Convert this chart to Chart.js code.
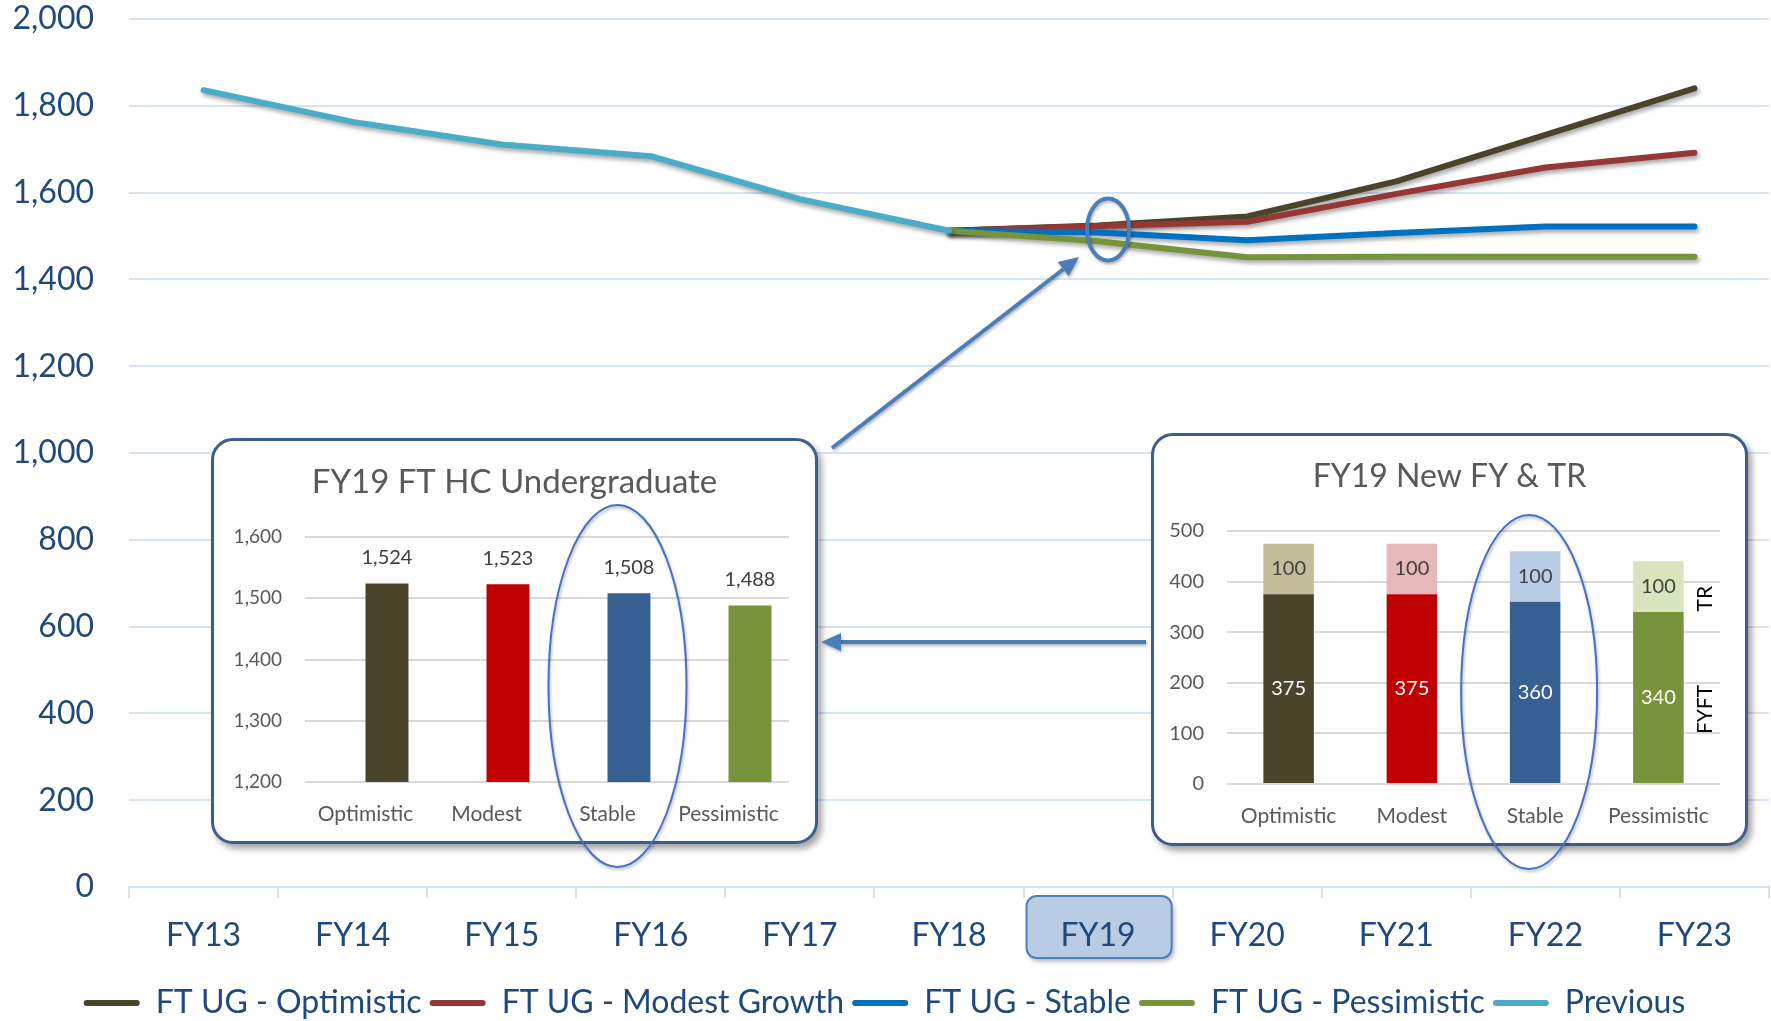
<!DOCTYPE html>
<html>
<head>
<meta charset="utf-8">
<title>FT UG headcount scenarios</title>
<script src="https://cdn.jsdelivr.net/npm/chart.js@4.4.1/dist/chart.umd.min.js"></script>
<style>
  body { margin: 0; background: #fff; }
  #wrap { position: relative; width: 1771px; height: 1021px; overflow: hidden; }
  #wrap canvas { position: absolute; }
  .inset { position: absolute; box-sizing: border-box; background: #fff; border: 3px solid #3B5E8C;
           border-radius: 22px; box-shadow: 4px 5px 6px rgba(0,0,0,0.35); }
</style>
</head>
<body>
<div id="wrap">
  <canvas id="mainChart" width="1771" height="1021" style="left:0;top:0"></canvas>
  <div class="inset" style="left:211px;top:438px;width:607px;height:406px"></div>
  <canvas id="hcChart" width="607" height="406" style="left:211px;top:438px"></canvas>
  <div class="inset" style="left:1151px;top:433px;width:597px;height:413px"></div>
  <canvas id="newChart" width="597" height="413" style="left:1151px;top:433px"></canvas>
  <canvas id="notes" width="1771" height="1021" style="left:0;top:0"></canvas>
</div>
<script>
// main chart data
const years = ['FY13', 'FY14', 'FY15', 'FY16', 'FY17', 'FY18', 'FY19', 'FY20', 'FY21', 'FY22', 'FY23'];
const optimistic  = [null, null, null, null, null, 1512, 1524, 1545, 1626, 1733, 1840];
const modest      = [null, null, null, null, null, 1512, 1523, 1533, 1597, 1658, 1692];
const stable      = [null, null, null, null, null, 1512, 1508, 1490, 1507, 1522, 1522];
const pessimistic = [null, null, null, null, null, 1512, 1488, 1451, 1452, 1452, 1452];
const previous    = [1836, 1763, 1711, 1684, 1585, 1512, null, null, null, null, null];

// inset charts data
const scenarios = ['Optimistic', 'Modest', 'Stable', 'Pessimistic'];
const fy19Headcount = [1524, 1523, 1508, 1488];
const newFirstYear = [375, 375, 360, 340];
const newTransfer = [100, 100, 100, 100];

const darkColors = ['#4A452A', '#C00000', '#376092', '#77933C'];
const lightColors = ['#C4BD97', '#E6B9B8', '#B9CDE5', '#D7E4BD'];

const FONT = 'Lato, "Open Sans", sans-serif';
Chart.defaults.font.family = FONT;
Chart.defaults.animation = false;

const fmt = v => Number(v).toLocaleString('en-US');

// soft shadow under the lines
const lineShadow = {
  id: 'lineShadow',
  beforeDatasetDraw(chart) {
    const c = chart.ctx;
    c.save();
    c.shadowColor = 'rgba(0,0,0,0.35)';
    c.shadowBlur = 4;
    c.shadowOffsetX = 2;
    c.shadowOffsetY = 3;
  },
  afterDatasetDraw(chart) { chart.ctx.restore(); }
};

// highlighted FY19 label
const fy19Box = {
  id: 'fy19Box',
  beforeDraw(chart) {
    const x = chart.scales.x;
    const half = (x.getPixelForValue(1) - x.getPixelForValue(0)) / 2;
    const cx = x.getPixelForValue(years.indexOf('FY19'));
    const c = chart.ctx;
    c.save();
    c.shadowColor = 'rgba(0,0,0,0.35)';
    c.shadowBlur = 5;
    c.shadowOffsetX = 2;
    c.shadowOffsetY = 3;
    c.beginPath();
    c.roundRect(cx - half + 3, chart.chartArea.bottom + 9, half * 2 - 4, 62, 10);
    c.fillStyle = '#B8CCE4';
    c.fill();
    c.shadowColor = 'transparent';
    c.lineWidth = 2;
    c.strokeStyle = '#4F81BD';
    c.stroke();
    c.restore();
  }
};

function lineSet(label, data, color, order) {
  return {
    label: label, data: data, order: order,
    borderColor: color, backgroundColor: color, borderWidth: 6,
    pointRadius: 0, pointHoverRadius: 0, tension: 0,
    borderCapStyle: 'round', borderJoinStyle: 'round'
  };
}

const mainChart = new Chart(document.getElementById('mainChart'), {
  type: 'line',
  data: {
    labels: years,
    datasets: [
      lineSet('FT UG - Optimistic', optimistic, '#4A452A', 5),
      lineSet('FT UG - Modest Growth', modest, '#953735', 4),
      lineSet('FT UG - Stable', stable, '#0070C0', 3),
      lineSet('FT UG - Pessimistic', pessimistic, '#77933C', 2),
      lineSet('Previous', previous, '#4BACC6', 1)
    ]
  },
  options: {
    responsive: false,
    devicePixelRatio: 1,
    layout: { padding: { top: 0, right: 2, left: 0, bottom: -8 } },
    plugins: {
      tooltip: { enabled: false },
      legend: {
        position: 'bottom',
        labels: {
          color: '#1F497D',
          font: { size: 32 },
          boxWidth: 56,
          boxHeight: 6,
          padding: 8,
          useBorderRadius: true,
          borderRadius: 3,
          sort: (a, b) => a.datasetIndex - b.datasetIndex,
          generateLabels(chart) {
            const items = Chart.defaults.plugins.legend.labels.generateLabels(chart);
            items.forEach(it => { it.lineWidth = 0; });
            return items;
          }
        }
      }
    },
    scales: {
      x: {
        offset: true,
        grid: { offset: true, drawOnChartArea: false, tickLength: 11, color: '#D5E1F1', lineWidth: 2 },
        border: { color: '#D5E1F1', width: 2 },
        ticks: { color: '#1F497D', font: { size: 32 }, padding: 18, maxRotation: 0 },
        afterFit(s) { s.height = 92; }
      },
      y: {
        min: 0, max: 2000,
        ticks: { stepSize: 200, color: '#1F497D', font: { size: 32 }, padding: 35, callback: fmt },
        grid: { color: '#D9E4F2', lineWidth: 2, drawTicks: false },
        border: { display: false },
        afterFit(s) { s.width = 129; s.paddingTop = 19; s.paddingBottom = 19; }
      }
    }
  },
  plugins: [fy19Box, lineShadow]
});

// inset title, centred on the whole box
function insetTitle(text, size) {
  return {
    id: 'insetTitle',
    afterDraw(chart) {
      const c = chart.ctx;
      c.save();
      c.font = size + 'px ' + FONT;
      c.fillStyle = '#595959';
      c.textAlign = 'center';
      c.textBaseline = 'middle';
      c.fillText(text, chart.width / 2, 44);
      c.restore();
    }
  };
}

// value labels above the headcount bars
const headcountLabels = {
  id: 'headcountLabels',
  afterDatasetsDraw(chart) {
    const c = chart.ctx;
    const meta = chart.getDatasetMeta(1);
    c.save();
    c.font = '20px ' + FONT;
    c.fillStyle = '#404040';
    c.textAlign = 'center';
    c.textBaseline = 'middle';
    meta.data.forEach((bar, i) => c.fillText(fmt(fy19Headcount[i]), bar.x, bar.y - 26));
    c.restore();
  }
};

const hcChart = new Chart(document.getElementById('hcChart'), {
  type: 'bar',
  data: {
    labels: scenarios,
    datasets: [
      { label: '', data: scenarios.map(() => null), backgroundColor: '#B9CDE5' },
      { label: 'FY19 FT HC', data: fy19Headcount, backgroundColor: darkColors }
    ]
  },
  options: {
    responsive: false,
    devicePixelRatio: 1,
    layout: { padding: { left: 0, right: 29, top: 99, bottom: 0 } },
    datasets: { bar: { categoryPercentage: 0.71, barPercentage: 1 } },
    plugins: { legend: { display: false }, tooltip: { enabled: false } },
    scales: {
      x: {
        grid: { display: false }, border: { display: false },
        ticks: { color: '#595959', font: { size: 21 }, padding: 12 },
        afterFit(s) { s.height = 62; }
      },
      y: {
        min: 1200, max: 1600,
        ticks: { stepSize: 100, color: '#595959', font: { size: 19 }, padding: 23, callback: fmt },
        grid: { color: '#D9D9D9', lineWidth: 2, drawTicks: false },
        border: { display: false },
        afterFit(s) { s.width = 94; }
      }
    }
  },
  plugins: [headcountLabels, insetTitle('FY19 FT HC Undergraduate', 33)]
});

// segment values and series names for the stacked chart
const newStudentLabels = {
  id: 'newStudentLabels',
  afterDatasetsDraw(chart) {
    const c = chart.ctx;
    c.save();
    c.textAlign = 'center';
    c.textBaseline = 'middle';
    c.font = '20px ' + FONT;
    chart.data.datasets.forEach((ds, d) => {
      chart.getDatasetMeta(d).data.forEach((bar, i) => {
        c.fillStyle = d === 0 ? '#FFFFFF' : '#404040';
        c.fillText(ds.data[i], bar.x, (bar.y + bar.base) / 2);
      });
    });
    const last = scenarios.length - 1;
    c.font = '21px ' + FONT;
    c.fillStyle = '#000000';
    chart.data.datasets.forEach((ds, d) => {
      const bar = chart.getDatasetMeta(d).data[last];
      c.save();
      c.translate(bar.x + bar.width / 2 + 22, (bar.y + bar.base) / 2 + 12);
      c.rotate(-Math.PI / 2);
      c.fillText(ds.label, 0, 0);
      c.restore();
    });
    c.restore();
  }
};

const newChart = new Chart(document.getElementById('newChart'), {
  type: 'bar',
  data: {
    labels: scenarios,
    datasets: [
      { label: 'FYFT', data: newFirstYear, backgroundColor: darkColors },
      { label: 'TR', data: newTransfer, backgroundColor: lightColors }
    ]
  },
  options: {
    responsive: false,
    devicePixelRatio: 1,
    layout: { padding: { left: 0, right: 28, top: 98, bottom: 0 } },
    datasets: { bar: { categoryPercentage: 1, barPercentage: 0.41 } },
    plugins: { legend: { display: false }, tooltip: { enabled: false } },
    scales: {
      x: {
        stacked: true,
        grid: { display: false }, border: { display: false },
        ticks: { color: '#595959', font: { size: 21 }, padding: 12 },
        afterFit(s) { s.height = 62; }
      },
      y: {
        stacked: true, min: 0, max: 500,
        ticks: { stepSize: 100, color: '#595959', font: { size: 20 }, padding: 23 },
        grid: { color: '#D9D9D9', lineWidth: 2, drawTicks: false },
        border: { display: false },
        afterFit(s) { s.width = 76; }
      }
    }
  },
  plugins: [newStudentLabels, insetTitle('FY19 New FY & TR', 32)]
});

// call-outs: rings and arrows on top of everything
(function drawNotes() {
  const c = document.getElementById('notes').getContext('2d');
  const blue = '#4A7EBB';

  function ring(cx, cy, rx, ry, width, color) {
    c.save();
    c.shadowColor = 'rgba(0,0,0,0.3)';
    c.shadowBlur = 3;
    c.shadowOffsetX = 1;
    c.shadowOffsetY = 2;
    c.beginPath();
    c.ellipse(cx, cy, rx, ry, 0, 0, Math.PI * 2);
    c.lineWidth = width;
    c.strokeStyle = color;
    c.stroke();
    c.restore();
  }

  function arrow(x1, y1, x2, y2) {
    const a = Math.atan2(y2 - y1, x2 - x1);
    const len = 20, hw = 9;
    const bx = x2 - len * Math.cos(a), by = y2 - len * Math.sin(a);
    c.save();
    c.shadowColor = 'rgba(0,0,0,0.3)';
    c.shadowBlur = 3;
    c.shadowOffsetX = 1;
    c.shadowOffsetY = 2;
    c.strokeStyle = blue;
    c.fillStyle = blue;
    c.lineWidth = 4;
    c.beginPath();
    c.moveTo(x1, y1);
    c.lineTo(bx, by);
    c.stroke();
    c.beginPath();
    c.moveTo(x2, y2);
    c.lineTo(bx + hw * Math.sin(a), by - hw * Math.cos(a));
    c.lineTo(bx - hw * Math.sin(a), by + hw * Math.cos(a));
    c.closePath();
    c.fill();
    c.restore();
  }

  const mx = mainChart.scales.x, my = mainChart.scales.y;
  ring(mx.getPixelForValue(years.indexOf('FY19')) + 10, my.getPixelForValue(1515), 21, 31, 4, blue);

  ring(211 + hcChart.scales.x.getPixelForValue(2) + 10, 686, 69, 181, 2, '#4472C4');
  ring(1151 + newChart.scales.x.getPixelForValue(2) - 6, 692, 68, 177, 2, '#4472C4');

  arrow(832, 448, 1079, 257);
  arrow(1146, 642, 821, 642);
})();
</script>
</body>
</html>
